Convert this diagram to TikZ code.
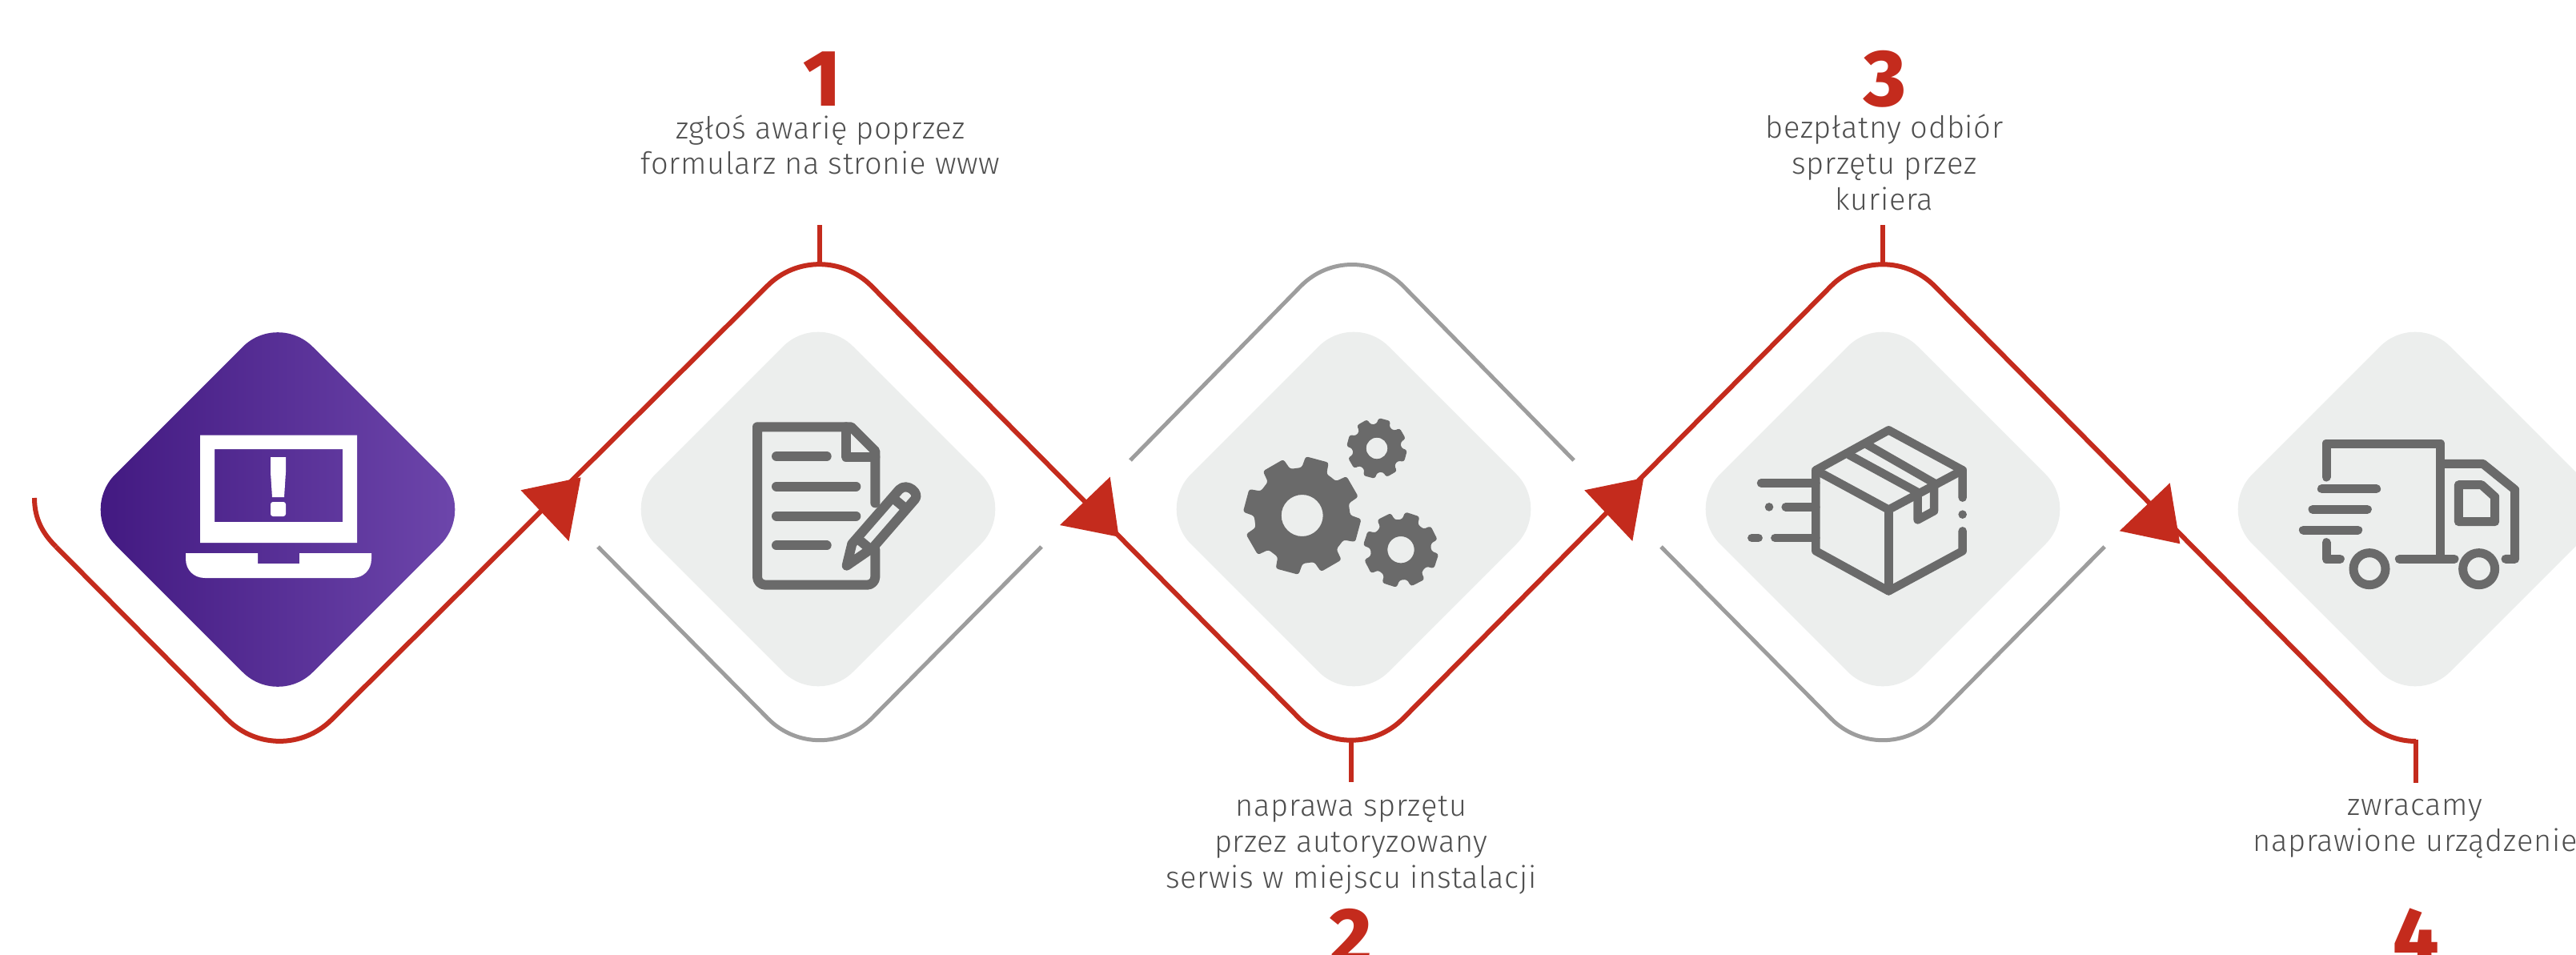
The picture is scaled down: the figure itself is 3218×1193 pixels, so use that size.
\documentclass[tikz,border=0pt]{standalone}
\usepackage{fontspec}
\setmainfont{Fira Sans}[UprightFont=* Light,BoldFont=* ExtraBold,LetterSpace=1.8]
\newfontfamily\numfont{Fira Sans ExtraBold}
\usetikzlibrary{calc}
\definecolor{redl}{HTML}{C42B1D}
\definecolor{grayl}{HTML}{9D9D9D}
\definecolor{panel}{HTML}{ECEEED}
\definecolor{icon}{HTML}{6A6A6A}
\definecolor{txt}{HTML}{4F4F4F}
\definecolor{pl}{HTML}{40177F}
\definecolor{pr}{HTML}{6F48AD}
\tikzset{
  redline/.style={draw=redl,line width=6pt},
  grayline/.style={draw=grayl,line width=5pt},
  panelbox/.style={fill=panel,rounded corners=62pt},
  arrowhead/.style={fill=redl},
  iconline/.style={draw=icon,line width=12pt,line cap=round,line join=round},
  label/.style={text=txt,font=\fontsize{38}{44.8}\selectfont,align=center,inner sep=0pt,anchor=base},
  num/.style={text=redl,font=\fontsize{100}{100}\numfont,inner sep=0pt,anchor=base},
}
\newcommand{\mygear}[6]{% cx cy body outer hole phase
  \begin{scope}[shift={(#1,#2)}]
  \fill[icon,even odd rule,rounded corners=3pt]
    (#6-22.5:#3 pt)
    \foreach \k in {0,1,...,7}{
      -- ({#6+45*\k-15.5}:#3 pt) -- ({#6+45*\k-11.5}:#4 pt) -- ({#6+45*\k+11.5}:#4 pt) -- ({#6+45*\k+15.5}:#3 pt)
    } -- cycle
    [sharp corners] (0,0) circle (#5 pt);
  \end{scope}}
\begin{document}
\begin{tikzpicture}[x=1pt,y=-1pt]
\useasboundingbox (0,0) rectangle (3218,1193);
\clip (0,0) rectangle (3218,1193);
% panels
\shade[left color=pl,right color=pr,rounded corners=62pt] (347,389.5) -- (594,636.5) -- (347,883.5) -- (100,636.5) -- cycle;
\foreach \c in {1022,1691,2352,3017}{
  \fill[panelbox] (\c,389) -- (\c+247,636) -- (\c,883) -- (\c-247,636) -- cycle;
}
% apex coordinates
\coordinate (b0) at (349,964);
\coordinate (t1) at (1024,292);
\coordinate (b2) at (1688,963);
\coordinate (t3) at (2352,292);
\coordinate (b4) at (3018,964);
\coordinate (s1) at (1024,281);
\coordinate (c1) at (1024,330);
\coordinate (s2) at (1688,977);
\coordinate (c2) at (1688,925);
\coordinate (s3) at (2352,281);
\coordinate (c3) at (2352,330);
\coordinate (s4) at (3018,978);
\coordinate (c4) at (3018,924);
% gray arcs
\draw[grayline,rounded corners=92pt] (747,683) -- (1024,963) -- (1301,683);
\draw[grayline,rounded corners=92pt] (1412,575) -- (1689,292) -- (1966,575);
\draw[grayline,rounded corners=92pt] (2075,683) -- (2352,963) -- (2629,683);
% red path
\draw[redline] (43,622) .. controls (43,650) and (55,668) .. (70,683);
\draw[redline,rounded corners=92pt] (70,683) -- (b0) -- (t1) -- (b2) -- (t3) -- (2953,899);
\draw[redline] (2953,899) .. controls (2971,916) and (2993,926) .. (3018,926);
\draw[redline] (c1) -- (s1);
\draw[redline] (c2) -- (s2);
\draw[redline] (c3) -- (s3);
\draw[redline] (c4) -- (s4);
% arrowheads
\fill[arrowhead] (725.6,596.4) -- (650.5,612.3) -- (710.6,676) -- cycle;
\fill[arrowhead] (1386.7,595.7) -- (1324,656) -- (1397.7,670.7) -- cycle;
\fill[arrowhead] (2053.3,597) -- (1979.3,612.3) -- (2039.3,676) -- cycle;
\fill[arrowhead] (2710.7,603.3) -- (2647.7,663.3) -- (2723.3,679.3) -- cycle;
% laptop
\fill[white,even odd rule] (250,543.5) rectangle (446,678) (268,561) rectangle (428,652);
\fill[white] (338,571) -- (357,571) -- (357,590) -- (355,621) -- (340,621) -- (338,590) -- cycle;
\fill[white,rounded corners=3pt] (338,627) rectangle (357,645);
\fill[white,rounded corners=0pt] (232,691) -- (322,691) -- (322,704) -- (374,704) -- (374,691) -- (464,691) -- (464,698) .. controls (464,712) and (454,722) .. (440,722) -- (256,722) .. controls (242,722) and (232,712) .. (232,698) -- cycle;
% document icon
\begin{scope}[shift={(880,480)},x=.33333pt,y=-.33333pt]
\draw[iconline] (640,445) -- (640,250) -- (550,160) -- (198,160) [rounded corners=10pt] -- (198,752) -- (640,752) [sharp corners] -- (640,620);
\draw[iconline] (530,160) -- (530,272) -- (640,272);
\draw[iconline] (270,270) -- (458,270);
\draw[iconline] (270,383) -- (568,383);
\draw[iconline] (270,494) -- (568,494);
\draw[iconline] (270,604) -- (458,604);
\draw[iconline] (533,680) -- (553,598) -- (730,395) .. controls (760,365) and (810,410) .. (788,432) -- (632,612) -- cycle;
\draw[iconline,line cap=butt] (570,575) -- (632,627);
\draw[iconline,line cap=butt] (705,425) -- (765,475);
\end{scope}
% gears
\mygear{1626.7}{644}{60}{74}{26}{75}
\mygear{1750}{686.7}{38}{47.5}{16.7}{72}
\mygear{1720}{560}{30.5}{38}{13.3}{75}
% box icon
\begin{scope}[shift={(2140,500)},x=.33333pt,y=-.33333pt]
\tikzset{iconline/.append style={line width=10.5pt}}
\draw[iconline] (935,365) -- (935,262) -- (658,112) -- (385,262) -- (385,565) -- (658,715) -- (935,565) -- (935,490);
\draw[iconline] (658,715) -- (658,410);
\draw[iconline] (385,262) -- (658,410) -- (935,262);
\draw[iconline] (510,205) -- (767,345) -- (767,448) -- (828,415) -- (828,310) -- (575,165);
\fill[icon] (935,428) circle (5.3pt);
\fill[icon] (210,400) circle (5.3pt);
\draw[iconline] (180,310) -- (385,310);
\draw[iconline] (272,400) -- (385,400);
\draw[iconline] (145,516) -- (170,516);
\draw[iconline] (232,516) -- (385,516);
\end{scope}
% truck icon
\begin{scope}[shift={(2840,510)},x=.33333pt,y=-.33333pt]
\tikzset{iconline/.append style={line width=11pt}}
\draw[iconline] (198,258) -- (198,132) -- (626,132) -- (626,565);
\draw[iconline] (626,208) -- (785,208) -- (905,305) -- (905,565) -- (870,565);
\draw[iconline] (694,287) -- (780,287) -- (830,332) -- (830,425) -- (694,425) -- cycle;
\draw[iconline] (472,565) -- (678,565);
\draw[iconline] (198,503) -- (198,565) -- (250,565);
\draw[iconline] (360,602) circle (20pt);
\draw[iconline] (770,602) circle (20pt);
\draw[iconline] (181,302) -- (386,302);
\draw[iconline] (147,379) -- (352,379);
\draw[iconline] (112,456) -- (317,456);
\end{scope}
% labels
\node[num] (n1) at (1027,133) {1};
\node[num] (n2) at (1688,1204) {2};
\node[num] (n3) at (2355,133) {3};
\node[num] (n4) at (3018,1204) {4};
\node[label] (l1) at (1025,218) {zgłoś awarię poprzez\\formularz na stronie www};
\node[label] (l2) at (1688,1109) {naprawa sprzętu\\przez autoryzowany\\serwis w miejscu instalacji};
\node[label] (l3) at (2354,262) {bezpłatny odbiór\\sprzętu przez\\kuriera};
\node[label] (l4) at (3017,1063) {zwracamy\\naprawione urządzenie};
\end{tikzpicture}
\end{document}
